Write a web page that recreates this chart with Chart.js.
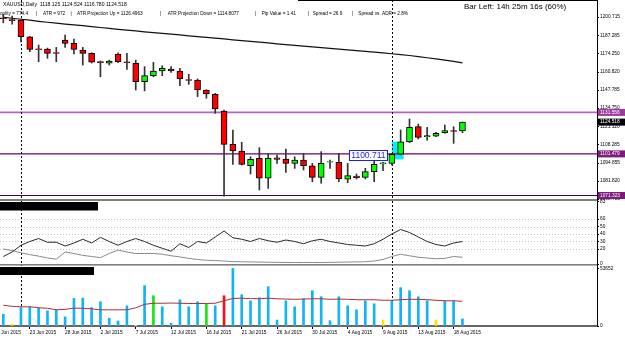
<!DOCTYPE html>
<html><head><meta charset="utf-8">
<script src="https://cdn.jsdelivr.net/npm/chart.js@4/dist/chart.umd.min.js"></script>
<style>
html,body{margin:0;padding:0;background:#fff;width:625px;height:339px;overflow:hidden;position:relative}
canvas{position:absolute;left:0}
</style></head><body>
<canvas id="main" width="625" height="203" style="top:0px"></canvas>
<canvas id="ind" width="625" height="66" style="top:199px"></canvas>
<canvas id="vol" width="625" height="75" style="top:264px"></canvas>
<script>
// ---------------- data ----------------
const barDates = ['19 Jun','21 Jun','22 Jun','23 Jun','24 Jun','25 Jun','26 Jun','28 Jun','29 Jun','30 Jun',
 '1 Jul','2 Jul','3 Jul','5 Jul','6 Jul','7 Jul','8 Jul','9 Jul','10 Jul','12 Jul',
 '13 Jul','14 Jul','15 Jul','16 Jul','17 Jul','19 Jul','20 Jul','21 Jul','22 Jul','23 Jul',
 '24 Jul','26 Jul','27 Jul','28 Jul','29 Jul','30 Jul','31 Jul','2 Aug','3 Aug','4 Aug',
 '5 Aug','6 Aug','7 Aug','9 Aug','10 Aug','11 Aug','12 Aug','13 Aug','14 Aug','16 Aug',
 '17 Aug','18 Aug','19 Aug'];
const openP  = [1200.2,1198.8,1198.5,1186.4,1177.6,1177.5,1175.0,1184.0,1181.6,1176.8,
 1174.4,1168.4,1167.2,1173.7,1168.2,1167.2,1153.8,1158.2,1161.6,1163.0,
 1161.6,1155.4,1155.0,1147.8,1144.7,1132.6,1108.4,1103.6,1092.9,1098.3,
 1083.8,1098.7,1097.8,1094.6,1097.0,1092.9,1084.5,1095.4,1095.4,1083.1,
 1085.4,1084.5,1088.6,1094.3,1094.6,1101.2,1110.3,1121.2,1113.9,1114.4,
 1116.6,1118.4,1118.125];
const highP  = [1202.5,1201.4,1199.3,1186.6,1180.4,1178.2,1178.7,1187.7,1184.8,1178.7,
 1174.8,1168.8,1169.5,1174.8,1174.4,1169.5,1164.7,1167.9,1165.4,1164.7,
 1163.5,1159.2,1155.8,1148.0,1145.4,1133.3,1118.8,1109.9,1099.4,1106.0,
 1101.9,1100.7,1105.0,1099.4,1101.9,1094.6,1103.1,1097.0,1101.9,1094.6,
 1086.9,1091.0,1098.3,1095.3,1101.9,1118.8,1126.8,1123.1,1120.7,1117.1,
 1122.4,1121.2,1124.524];
const lowP   = [1196.5,1195.6,1182.6,1175.6,1168.3,1170.8,1168.3,1178.7,1173.9,1165.9,
 1167.4,1157.4,1165.9,1167.6,1162.8,1147.8,1147.1,1157.4,1158.2,1160.6,
 1150.9,1151.9,1143.0,1141.8,1130.9,1070.9,1093.9,1093.4,1086.9,1075.3,
 1076.5,1094.6,1088.1,1091.0,1089.8,1081.3,1080.2,1091.0,1081.3,1080.6,
 1083.3,1083.3,1081.3,1089.3,1093.4,1100.7,1109.6,1112.3,1111.5,1113.9,
 1116.4,1109.1,1116.780];
const closeP = [1199.5,1198.1,1186.4,1177.3,1177.0,1174.4,1174.4,1181.6,1177.3,1174.4,
 1167.9,1167.6,1168.8,1168.3,1167.6,1153.8,1158.2,1161.6,1163.5,1161.6,
 1155.8,1154.8,1147.8,1144.9,1134.0,1108.4,1103.6,1093.9,1097.5,1083.8,
 1098.3,1097.5,1094.6,1097.0,1092.9,1084.5,1094.6,1096.0,1083.3,1085.7,
 1084.2,1088.6,1093.9,1095.0,1101.2,1110.3,1120.7,1113.5,1114.7,1116.4,
 1118.3,1117.8,1124.518];
const maLine = [1200.5,1199.8,1199.1,1198.4,1197.6,1196.9,1196.3,1195.6,1195.0,1194.4,
 1193.7,1193.1,1192.5,1191.8,1191.2,1190.6,1190.0,1189.4,1188.8,1188.3,
 1187.7,1187.1,1186.5,1185.9,1185.4,1184.8,1184.2,1183.6,1183.0,1182.5,
 1181.9,1181.3,1180.7,1180.1,1179.6,1179.0,1178.5,1178.0,1177.5,1176.9,
 1176.4,1175.8,1175.2,1174.7,1174.1,1173.5,1172.8,1172.0,1171.2,1170.4,
 1169.5,1168.5,1167.4];
const priceTicks = [1200.715,1187.285,1174.250,1160.820,1147.785,1134.750,1121.120,1108.285,1094.855,1081.820,1068.785];
const levelPrices = [1131.556,1101.479,1071.323];
const lastPrice = 1124.518;
const markedPrice = 1100.711;
const highlightZone = {fromBar:44, toBar:45, low:1097.5, high:1110.3};
const separatorBars = [2,44];

const indLineA = [10,16,25,30,34,29,29,24,28,33,28,35.5,30,25,30,34,30,25,21,17,27,22,30,28,36,44,35,
 33,30,34,31,29,32,30,27,31,33,30,28,26,25,24,27,33,40,46,42,36,30,26,24,28,30];
const indLineB = [20,18,15,12.5,10.5,8,6.5,16,14,11.5,10,8.5,14,18.5,16,14,14,14,13,11,9.5,7.5,6,5,4.5,4,3.2,
 3,2.8,2.6,2.4,2.2,2,2,2,2,2,2.2,2.4,2.6,2.8,3,4,6,10,13,11,9,8,7,7.5,10,9];
const indTicks = [83,60,50,40,30,20,0];
const indLevels = [60,50,40,30,20];

const volumes = [11000,1600,17200,17900,16600,14100,15000,8500,25700,26000,
 17200,22600,7200,4700,18800,40000,37600,28200,17900,2500,
 24500,17900,22600,20400,18800,28200,53652,29200,23500,26300,
 36700,5500,23500,17900,25400,32900,27300,5000,27300,18800,
 15100,23500,20700,5600,23500,35800,32900,27300,23500,5600,
 23500,23500,6600];
const volumeTypes = ['N','L','N','N','N','N','N','N','N','N',
 'N','N','N','N','N','D','N','C','N','N',
 'N','N','N','C','N','U','N','N','N','N',
 'N','N','N','N','N','N','N','N','N','N',
 'N','N','N','L','N','N','N','N','N','L',
 'N','N','N'];
const volumeAvg = [19300,18350,17900,17900,17100,16500,15100,15500,16650,16500,
 16000,15100,15100,15100,15100,16900,20200,21200,21200,21400,
 21200,21000,21000,21000,21200,23500,25700,25900,25600,25400,
 25900,25400,25100,24900,25100,25400,25400,24900,25100,24900,
 24500,24500,24500,24000,24000,24500,24900,24900,24500,24000,
 23500,23500,23000];
const volTicks = [53652,0];

const dateTickBars = [-1,3,7,11,15,19,23,27,31,35,39,43,47,51];
const dateTickLabels = ['18 Jun 2015','23 Jun 2015','28 Jun 2015','2 Jul 2015','7 Jul 2015','12 Jul 2015','16 Jul 2015',
 '21 Jul 2015','26 Jul 2015','30 Jul 2015','4 Aug 2015','9 Aug 2015','13 Aug 2015','18 Aug 2015'];

const symbolName = 'XAUUSD,Daily';
const statsItems = ['oplity = 774.4','ATR = 972','ATR Projection Up = 1126.4963','ATR Projection Down = 1114.8077',
 'Pip Value = 1.41','Spread = 26.9','Spread vs. ADR = 2.8%'];
const barLeftText = 'Bar Left: 14h 25m 16s (60%)';

// ---------------- styles / layout ----------------
const FONT = "'Liberation Sans', Arial, sans-serif";
const xMin = -0.374, xMax = 67.236;
const statsX = [0,43,77,167.7,261.7,312.7,358.3];
const statsSepX = [36,70.5,160,255,308,351.7];
const levelLineColors = ['#b562c2','#6a006a','#4d004d'];
const levelBoxColors = ['#a03aa0','#7f1a7f','#7f1a7f'];
const levelLineWidths = [1.6,1.4,1.2];
const volColorMap = {N:'#12b4f2', L:'#f5e600', C:'#14e614', U:'#f01414', D:'#ffffff'};

Chart.defaults.font.family = FONT;

function rightAxis(min, max, tickVals, fmt){
  return {
    position:'right', min:min, max:max,
    afterBuildTicks: s => { s.ticks = tickVals.map(v => ({value:v})); },
    afterFit: s => { s.width = 28; s.paddingTop = 0; s.paddingBottom = 0; },
    ticks:{font:{size:4.8, family:FONT}, color:'#000', padding:1, autoSkip:false, callback: fmt},
    grid:{drawOnChartArea:false, drawTicks:true, tickLength:2, color:'#000'},
    border:{color:'#000', width:1}
  };
}
const hiddenX = {type:'linear', display:false, min:xMin, max:xMax, offset:false, grid:{offset:false}};

function drawVLines(chart, y0, y1){
  const {ctx, scales:{x}} = chart;
  ctx.save();
  ctx.strokeStyle = '#000'; ctx.lineWidth = 1; ctx.setLineDash([2,2]);
  separatorBars.forEach(b => {
    const px = Math.round(x.getPixelForValue(b)) + 0.5;
    ctx.beginPath(); ctx.moveTo(px, y0); ctx.lineTo(px, y1); ctx.stroke();
  });
  ctx.restore();
}
function drawRightFrame(chart, y0, y1){
  const ctx = chart.ctx;
  ctx.save(); ctx.strokeStyle = '#000'; ctx.lineWidth = 1;
  ctx.beginPath(); ctx.moveTo(597.5, y0); ctx.lineTo(597.5, y1); ctx.stroke();
  ctx.restore();
}

// ---------------- main pane ----------------
const mainDecor = {
  id:'mainDecor',
  beforeDatasetsDraw(chart){
    const {ctx, chartArea, scales:{x,y}} = chart;
    ctx.save();
    // highlight zone
    const hx0 = x.getPixelForValue(highlightZone.fromBar), hx1 = x.getPixelForValue(highlightZone.toBar) + 3;
    const hy0 = y.getPixelForValue(highlightZone.high), hy1 = y.getPixelForValue(highlightZone.low);
    ctx.fillStyle = '#00f0ff';
    ctx.fillRect(hx0, hy0, hx1 - hx0, hy1 - hy0);
    // level lines
    levelPrices.forEach((p,i) => {
      const py = y.getPixelForValue(p);
      ctx.strokeStyle = levelLineColors[i]; ctx.lineWidth = levelLineWidths[i];
      ctx.beginPath(); ctx.moveTo(chartArea.left, py); ctx.lineTo(chartArea.right, py); ctx.stroke();
    });
    ctx.restore();
    drawVLines(chart, 0, chartArea.bottom);
  },
  afterDatasetsDraw(chart){
    const {ctx, scales:{x,y}} = chart;
    ctx.save();
    ctx.font = '8.5px ' + FONT;
    const txt = markedPrice.toFixed(3);
    const w = ctx.measureText(txt).width + 4;
    const right = x.getPixelForValue(43) + 4.5;
    const cy = y.getPixelForValue(markedPrice);
    ctx.fillStyle = '#fff';
    ctx.fillRect(right - w, cy - 5, w, 10);
    ctx.strokeStyle = '#1c1cff'; ctx.lineWidth = 1;
    ctx.strokeRect(Math.round(right - w) + 0.5, Math.round(cy - 5) + 0.5, Math.round(w), 10);
    ctx.fillStyle = '#1c1cff'; ctx.textBaseline = 'middle'; ctx.textAlign = 'left';
    ctx.fillText(txt, right - w + 2, cy + 0.5);
    ctx.restore();
  },
  afterDraw(chart){
    const {ctx, chartArea, scales:{y}} = chart;
    ctx.save();
    // right-axis value boxes
    ctx.font = '4.8px ' + FONT; ctx.textBaseline = 'middle'; ctx.textAlign = 'left';
    const boxes = levelPrices.map((p,i) => ({p:p, c:levelBoxColors[i]}));
    boxes.push({p:lastPrice, c:'#000'});
    boxes.forEach(b => {
      const py = y.getPixelForValue(b.p);
      ctx.fillStyle = b.c; ctx.fillRect(598, py - 3.5, 27, 7);
      ctx.fillStyle = '#fff'; ctx.fillText(b.p.toFixed(3), 600, py);
    });
    // header texts
    ctx.fillStyle = '#000';
    ctx.font = '5.1px ' + FONT;
    const ohlc = [openP, highP, lowP, closeP].map(a => a[a.length - 1].toFixed(3)).join(' ');
    ctx.fillText(symbolName + '  ' + ohlc, 3, 5);
    ctx.font = '4.7px ' + FONT;
    statsItems.forEach((t,i) => ctx.fillText(t, statsX[i], 13.3));
    statsSepX.forEach(sx => ctx.fillText('|', sx, 13.3));
    ctx.font = '8px ' + FONT;
    ctx.fillText(barLeftText, 464, 6.5);
    // frame
    ctx.strokeStyle = '#000'; ctx.lineWidth = 1;
    ctx.beginPath(); ctx.moveTo(298, 0.5); ctx.lineTo(597.5, 0.5); ctx.stroke();
    ctx.restore();
    drawRightFrame(chart, 0, chartArea.bottom);
  }
};

new Chart(document.getElementById('main'), {
  type:'bar',
  data:{datasets:[
    {type:'line', data: maLine.map((v,i) => ({x:i, y:v})), borderColor:'#111', borderWidth:1.2,
     pointRadius:0, tension:0, order:5},
    {type:'bar', data: barDates.map((d,i) => ({x:i, y:[lowP[i], highP[i]]})), backgroundColor:'#333',
     barThickness:1, grouped:false, order:3},
    {type:'bar', data: barDates.map((d,i) => ({x:i, y:[Math.min(openP[i],closeP[i]), Math.max(openP[i],closeP[i])]})),
     backgroundColor: c => closeP[c.dataIndex] >= openP[c.dataIndex] ? '#00ff00' : '#ff0000',
     borderColor:'#000', borderWidth:1, borderSkipped:false, barThickness:6, grouped:false, order:1}
  ]},
  options:{
    responsive:false, animation:false, events:[],
    layout:{padding:{top:3, bottom:4, left:0, right:0}},
    plugins:{legend:{display:false}, tooltip:{enabled:false}},
    scales:{
      x: hiddenX,
      y: rightAxis(1068.785, 1210.87, priceTicks, v => Number(v).toFixed(3))
    }
  },
  plugins:[mainDecor]
});

// ---------------- indicator pane ----------------
const indDecor = {
  id:'indDecor',
  beforeDatasetsDraw(chart){
    const {ctx, chartArea, scales:{y}} = chart;
    ctx.save();
    ctx.strokeStyle = '#c4c4c4'; ctx.lineWidth = 1; ctx.setLineDash([1,2]);
    indLevels.forEach(v => {
      const py = Math.round(y.getPixelForValue(v)) + 0.5;
      ctx.beginPath(); ctx.moveTo(chartArea.left, py); ctx.lineTo(chartArea.right, py); ctx.stroke();
    });
    ctx.restore();
    drawVLines(chart, chartArea.top, chartArea.bottom);
  },
  afterDraw(chart){
    const {ctx, chartArea} = chart;
    ctx.save();
    ctx.fillStyle = '#808080'; ctx.fillRect(0, 0, 598, 2);
    ctx.fillStyle = '#000'; ctx.fillRect(0, 3, 98, 8.5);
    ctx.restore();
    drawRightFrame(chart, 0, chartArea.bottom);
  }
};
new Chart(document.getElementById('ind'), {
  type:'line',
  data:{datasets:[
    {data: indLineA.map((v,i) => ({x:i, y:v})), borderColor:'#2a2a2a', borderWidth:1, pointRadius:0, tension:0},
    {data: indLineB.map((v,i) => ({x:i, y:v})), borderColor:'#8a8a8a', borderWidth:1, pointRadius:0, tension:0}
  ]},
  options:{
    responsive:false, animation:false, events:[],
    layout:{padding:{top:2, bottom:1, left:0, right:0}},
    plugins:{legend:{display:false}, tooltip:{enabled:false}},
    scales:{
      x: hiddenX,
      y: rightAxis(0, 84, indTicks, v => String(v))
    }
  },
  plugins:[indDecor]
});

// ---------------- volume pane ----------------
const volDecor = {
  id:'volDecor',
  beforeDatasetsDraw(chart){
    const {chartArea} = chart;
    drawVLines(chart, 0, chartArea.bottom);
  },
  afterDraw(chart){
    const {ctx, chartArea} = chart;
    ctx.save();
    ctx.fillStyle = '#808080'; ctx.fillRect(0, 0, 598, 1.6);
    ctx.fillStyle = '#000'; ctx.fillRect(0, 3, 94, 8);
    ctx.restore();
    drawRightFrame(chart, 0, chartArea.bottom);
  }
};
new Chart(document.getElementById('vol'), {
  type:'bar',
  data:{datasets:[
    {type:'line', data: volumeAvg.map((v,i) => ({x:i, y:v})), borderColor:'#a83232', borderWidth:1,
     pointRadius:0, tension:0, order:1},
    {type:'bar', data: volumes.map((v,i) => ({x:i, y:v})), backgroundColor: c => volColorMap[volumeTypes[c.dataIndex]],
     barThickness:2, grouped:false, order:2}
  ]},
  options:{
    responsive:false, animation:false, events:[],
    layout:{padding:{top:3, bottom:0, left:0, right:0}},
    plugins:{legend:{display:false}, tooltip:{enabled:false}},
    scales:{
      x:{type:'linear', position:'bottom', min:xMin, max:xMax, offset:false,
         afterBuildTicks: s => { s.ticks = dateTickBars.map(v => ({value:v})); },
         afterFit: s => { s.height = 13; s.paddingLeft = 0; s.paddingRight = 0; },
         ticks:{font:{size:4.8, family:FONT}, color:'#000', align:'start', maxRotation:0, minRotation:0,
                autoSkip:false, padding:1,
                callback: v => dateTickLabels[dateTickBars.indexOf(v)]},
         grid:{drawOnChartArea:false, drawTicks:true, tickLength:3, color:'#000', offset:false},
         border:{color:'#666', width:2}},
      y: rightAxis(0, 55000, volTicks, v => String(v))
    }
  },
  plugins:[volDecor]
});
</script>
</body></html>
